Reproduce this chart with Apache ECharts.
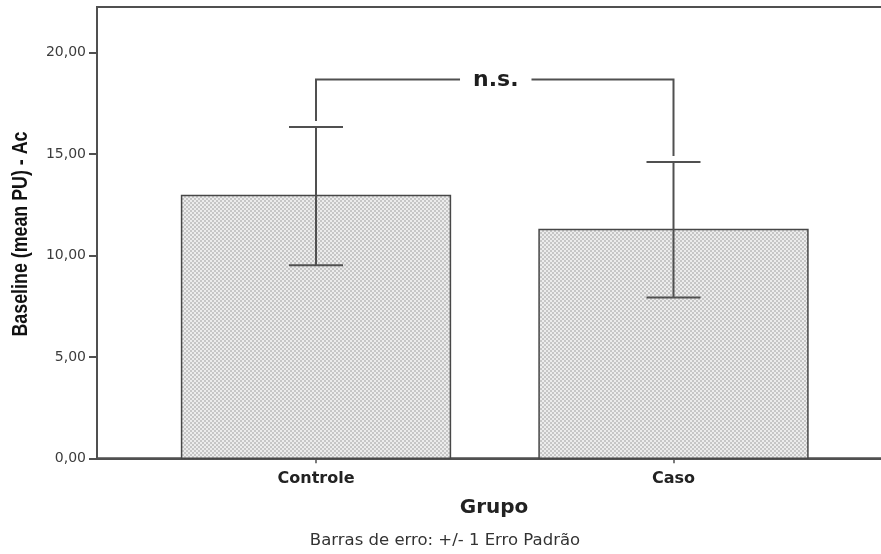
<!DOCTYPE html>
<html>
<head>
<meta charset="utf-8">
<script src="https://cdn.jsdelivr.net/npm/echarts@6/dist/echarts.min.js"></script>
<style>
  html, body { margin: 0; padding: 0; background: #fff; }
  #chart { width: 881px; height: 554px; }
</style>
</head>
<body>
<div id="chart"></div>
<script>
// Group means with +/- 1 standard error
const categories = ['Controle', 'Caso'];
const means = [12.96, 11.28];
const errLower = [9.52, 7.93];
const errUpper = [16.33, 14.61];

// Value axis ticks and range
const yTicks = [0, 5, 10, 15, 20];
const yMax = 22.25;

// Significance bracket between the two groups
const bracketLevel = 18.68;
const bracketLabel = 'n.s.';

const yTitle = 'Baseline (mean PU) - Ac';
const xTitle = 'Grupo';
const footnote = 'Barras de erro: +/- 1 Erro Padrão';

// ---- layout ----
const plotLeft = 97, plotRightEdge = 891, firstCenterPx = 316, stepPx = 357.5;
const xMin = 1 - (firstCenterPx - plotLeft) / stepPx;
const xMax = xMin + (plotRightEdge - plotLeft) / stepPx;
const barSpan = 0.752;      // bar width as a fraction of the category step
const capPx = 54;           // error-bar cap width in pixels
const legGapPx = 6;         // gap between bracket legs and the caps below

const lineColor = '#505050';
const textFont = 'DejaVu Sans';

// fine dotted fill used for the bars
function makeDotPattern() {
  const c = document.createElement('canvas');
  c.width = 4; c.height = 4;
  const g = c.getContext('2d');
  g.fillStyle = '#ececec';
  g.fillRect(0, 0, 4, 4);
  g.fillStyle = '#c6c6c6';
  g.fillRect(0, 0, 2, 2);
  g.fillRect(2, 2, 2, 2);
  return c;
}
const dotPattern = { image: makeDotPattern(), repeat: 'repeat' };

const barData = categories.map((c, i) => [i + 1, means[i], errLower[i], errUpper[i]]);
const bracketData = [[1, 2, bracketLevel, errUpper[0], errUpper[1]]];

const chart = echarts.init(document.getElementById('chart'), null, { renderer: 'canvas' });

chart.setOption({
  animation: false,
  backgroundColor: '#ffffff',
  grid: {
    left: plotLeft, right: 881 - plotRightEdge, top: 7, bottom: 95.7,
    show: true, borderColor: lineColor, borderWidth: 2,
    containLabel: false, outerBoundsMode: 'none'
  },
  xAxis: {
    type: 'value',
    min: xMin, max: xMax,
    name: xTitle,
    nameLocation: 'middle',
    nameGap: 39,
    nameTextStyle: { fontFamily: textFont, fontWeight: 'bold', fontSize: 20, color: '#222' },
    axisLine: { show: true, lineStyle: { color: lineColor, width: 2 } },
    axisTick: { show: true, customValues: [1, 2], length: 5, lineStyle: { color: lineColor, width: 1.5 } },
    axisLabel: {
      customValues: [1, 2],
      formatter: v => categories[Math.round(v) - 1] || '',
      margin: 13,
      fontFamily: textFont, fontWeight: 'bold', fontSize: 16, color: '#222'
    },
    splitLine: { show: false }
  },
  yAxis: {
    type: 'value',
    min: 0, max: yMax,
    axisLine: { show: true, lineStyle: { color: lineColor, width: 2 } },
    axisTick: { show: true, customValues: yTicks, length: 8, lineStyle: { color: lineColor, width: 2 } },
    axisLabel: {
      customValues: yTicks,
      formatter: v => v.toFixed(2).replace('.', ','),
      margin: 11,
      fontFamily: textFont, fontSize: 14, color: '#3c3c3c'
    },
    splitLine: { show: false }
  },
  graphic: [
    {
      type: 'text',
      x: 21, y: 234,
      rotation: Math.PI / 2,
      scaleX: 0.81,
      style: {
        text: yTitle,
        fontFamily: 'Liberation Sans', fontWeight: 'bold', fontSize: 22, fill: '#111',
        align: 'center', verticalAlign: 'middle'
      }
    },
    {
      type: 'text',
      x: 445, y: 541,
      style: {
        text: footnote,
        fontFamily: textFont, fontSize: 16.5, fill: '#333',
        align: 'center', verticalAlign: 'middle'
      }
    }
  ],
  series: [
    {
      type: 'custom',
      name: 'bars',
      data: barData,
      encode: { x: 0, y: [1, 2, 3] },
      z: 2,
      renderItem: function (params, api) {
        const x = api.value(0);
        const w = api.size([barSpan, 0])[0];
        const base = api.coord([x, 0]);
        const top = api.coord([x, api.value(1)]);
        const lo = api.coord([x, api.value(2)]);
        const hi = api.coord([x, api.value(3)]);
        const errStyle = { stroke: lineColor, lineWidth: 2 };
        return {
          type: 'group',
          children: [
            {
              type: 'rect',
              shape: { x: top[0] - w / 2, y: top[1], width: w, height: base[1] - top[1] },
              style: { fill: dotPattern, stroke: '#474747', lineWidth: 1.5 }
            },
            { type: 'line', shape: { x1: lo[0], y1: lo[1], x2: hi[0], y2: hi[1] }, style: errStyle },
            { type: 'line', shape: { x1: hi[0] - capPx / 2, y1: hi[1], x2: hi[0] + capPx / 2, y2: hi[1] }, style: errStyle },
            { type: 'line', shape: { x1: lo[0] - capPx / 2, y1: lo[1], x2: lo[0] + capPx / 2, y2: lo[1] }, style: errStyle }
          ]
        };
      }
    },
    {
      type: 'custom',
      name: 'bracket',
      data: bracketData,
      encode: { x: [0, 1], y: [2, 3, 4] },
      z: 3,
      renderItem: function (params, api) {
        const a = api.coord([api.value(0), api.value(2)]);
        const b = api.coord([api.value(1), api.value(2)]);
        const aEnd = api.coord([api.value(0), api.value(3)]);
        const bEnd = api.coord([api.value(1), api.value(4)]);
        return {
          type: 'group',
          children: [
            {
              type: 'polyline',
              shape: { points: [[a[0], aEnd[1] - legGapPx], a, b, [b[0], bEnd[1] - legGapPx]] },
              style: { stroke: lineColor, lineWidth: 2, fill: null }
            },
            {
              type: 'text',
              x: (a[0] + b[0]) / 2 + 1, y: a[1] + 1,
              style: {
                text: bracketLabel,
                fontFamily: textFont, fontWeight: 'bold', fontSize: 22, fill: '#1e1e1e',
                align: 'center', verticalAlign: 'middle',
                backgroundColor: '#ffffff', padding: [2, 13]
              }
            }
          ]
        };
      }
    }
  ]
});
</script>
</body>
</html>
